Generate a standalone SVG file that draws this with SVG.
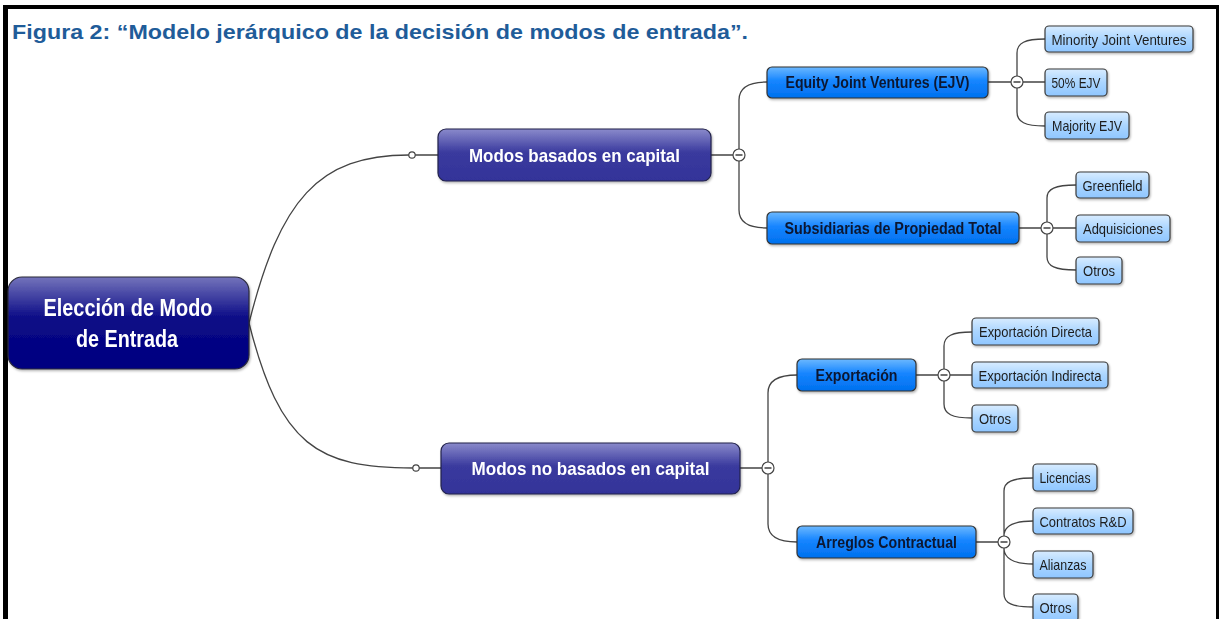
<svg xmlns="http://www.w3.org/2000/svg" width="1219" height="619" viewBox="0 0 1219 619">
<defs>
<linearGradient id="gRoot" x1="0" y1="0" x2="0" y2="1">
<stop offset="0" stop-color="#7474bb"/><stop offset="0.45" stop-color="#0a0a86"/><stop offset="1" stop-color="#000080"/>
</linearGradient>
<linearGradient id="gL1" x1="0" y1="0" x2="0" y2="1">
<stop offset="0" stop-color="#8a8acb"/><stop offset="0.45" stop-color="#3a3a9e"/><stop offset="1" stop-color="#333399"/>
</linearGradient>
<linearGradient id="gL2" x1="0" y1="0" x2="0" y2="1">
<stop offset="0" stop-color="#6cb8ff"/><stop offset="0.45" stop-color="#1585ff"/><stop offset="1" stop-color="#0070ee"/>
</linearGradient>
<linearGradient id="gL3" x1="0" y1="0" x2="0" y2="1">
<stop offset="0" stop-color="#d8ecff"/><stop offset="0.5" stop-color="#aad5ff"/><stop offset="1" stop-color="#8fc6ff"/>
</linearGradient>
<filter id="sh" x="-10%" y="-20%" width="120%" height="150%">
<feDropShadow dx="1" dy="1.5" stdDeviation="1" flood-color="#000" flood-opacity="0.3"/>
</filter>
</defs>
<style>
.root{fill:url(#gRoot);stroke:#2a2a3a;stroke-width:1.2}
.l1{fill:url(#gL1);stroke:#22224a;stroke-width:1.2}
.l2{fill:url(#gL2);stroke:#333;stroke-width:1.2}
.l3{fill:url(#gL3);stroke:#3a3a3a;stroke-width:1.2}
.tw{font-family:"Liberation Sans",Arial,sans-serif;font-weight:bold;fill:#fff;text-anchor:middle}
.tb{font-family:"Liberation Sans",Arial,sans-serif;font-weight:bold;fill:#0b1830;text-anchor:middle;font-size:16px}
.tl{font-family:"Liberation Sans",Arial,sans-serif;fill:#1e1e1e;text-anchor:middle;font-size:14.5px}
.c{fill:none;stroke:#444;stroke-width:1.3}
.k{fill:#fff;stroke:#444;stroke-width:1.2}
.m{stroke:#333;stroke-width:1.4}
</style>
<rect x="0" y="0" width="1219" height="619" fill="#fff"/>
<g id="frame" fill="#000">
<rect x="3" y="5" width="5" height="614"/>
<rect x="3" y="5" width="1216" height="4"/>
<rect x="1216" y="5" width="3" height="614"/>
</g>
<text x="12" y="39" font-family="'Liberation Sans',Arial,sans-serif" font-weight="bold" font-size="21" fill="#1f5c99" textLength="736" lengthAdjust="spacingAndGlyphs">Figura 2: “Modelo jerárquico de la decisión de modos de entrada”.</text>
<g id="connectors">
<path class="c" d="M249,323 C280,200 318,155 409,155"/>
<path class="c" d="M249,323 C280,446 318,468 413,468"/>
<path class="c" d="M415,155 H438 M419,468 H441"/>
<circle class="k" cx="412" cy="155" r="3.2"/>
<circle class="k" cx="416" cy="468" r="3.2"/>
<path class="c" d="M711,155 H733 M739,149 V100 C739,88 748,82 767,82 M739,161 V210 C739,222 748,228 767,228"/>
<path class="c" d="M740,468 H762 M768,462 V393 C768,381 777,375 797,375 M768,474 V524 C768,536 777,542 797,542"/>
<path class="c" d="M988,82 H1011 M1017,76 V53 C1017,43 1025,39 1045,39 M1023,82 H1045 M1017,88 V112 C1017,122 1025,126 1045,126"/>
<path class="c" d="M1019,228 H1041 M1047,222 V198 C1047,189 1055,185 1076,185 M1053,228 H1076 M1047,234 V257 C1047,266 1055,270 1076,270"/>
<path class="c" d="M916,375 H938 M944,369 V346 C944,336 952,332 972,332 M950,375 H972 M944,381 V404 C944,414 952,418 972,418"/>
<path class="c" d="M976,542 H998 M1004,536 V491 C1004,482 1012,478 1033,478 M1004,536 C1004,527 1012,521 1033,521 M1004,548 C1004,557 1012,564 1033,564 M1004,548 V594 C1004,603 1012,607 1033,607"/>
<g>
<circle class="k" cx="739" cy="155" r="6"/><line class="m" x1="735.5" y1="155" x2="742.5" y2="155"/>
<circle class="k" cx="768" cy="468" r="6"/><line class="m" x1="764.5" y1="468" x2="771.5" y2="468"/>
<circle class="k" cx="1017" cy="82" r="6"/><line class="m" x1="1013.5" y1="82" x2="1020.5" y2="82"/>
<circle class="k" cx="1047" cy="228" r="6"/><line class="m" x1="1043.5" y1="228" x2="1050.5" y2="228"/>
<circle class="k" cx="944" cy="375" r="6"/><line class="m" x1="940.5" y1="375" x2="947.5" y2="375"/>
<circle class="k" cx="1004" cy="542" r="6"/><line class="m" x1="1000.5" y1="542" x2="1007.5" y2="542"/>
</g>
</g>
<g id="n-root" filter="url(#sh)">
<rect class="root" x="8" y="277" width="241" height="92" rx="14"/>
<text class="tw" x="128" y="316" font-size="23" textLength="169" lengthAdjust="spacingAndGlyphs">Elección de Modo</text>
<text class="tw" x="127" y="347" font-size="23" textLength="102" lengthAdjust="spacingAndGlyphs">de Entrada</text>
</g>
<g id="n-capital" filter="url(#sh)">
<rect class="l1" x="438" y="129" width="273" height="52" rx="8"/>
<text class="tw" x="574.5" y="162" font-size="19" textLength="211" lengthAdjust="spacingAndGlyphs">Modos basados en capital</text>
</g>
<g id="n-nocapital" filter="url(#sh)">
<rect class="l1" x="441" y="443" width="299" height="51" rx="8"/>
<text class="tw" x="590.5" y="475" font-size="19" textLength="238" lengthAdjust="spacingAndGlyphs">Modos no basados en capital</text>
</g>
<g id="n-ejv" filter="url(#sh)">
<rect class="l2" x="767" y="67" width="221" height="31" rx="5"/>
<text class="tb" x="877.5" y="88" textLength="184" lengthAdjust="spacingAndGlyphs">Equity Joint Ventures (EJV)</text>
</g>
<g id="n-subs" filter="url(#sh)">
<rect class="l2" x="767" y="212" width="252" height="32" rx="5"/>
<text class="tb" x="893" y="234" textLength="217" lengthAdjust="spacingAndGlyphs">Subsidiarias de Propiedad Total</text>
</g>
<g id="n-export" filter="url(#sh)">
<rect class="l2" x="797" y="359" width="119" height="32" rx="5"/>
<text class="tb" x="856.5" y="381" textLength="82" lengthAdjust="spacingAndGlyphs">Exportación</text>
</g>
<g id="n-arreglos" filter="url(#sh)">
<rect class="l2" x="797" y="526" width="179" height="32" rx="5"/>
<text class="tb" x="886.5" y="548" textLength="141" lengthAdjust="spacingAndGlyphs">Arreglos Contractual</text>
</g>
<g id="n-minority" filter="url(#sh)">
<rect class="l3" x="1045" y="26" width="148" height="26" rx="4"/>
<text class="tl" x="1119" y="44.5" textLength="135" lengthAdjust="spacingAndGlyphs">Minority Joint Ventures</text>
</g>
<g id="n-50ejv" filter="url(#sh)">
<rect class="l3" x="1045" y="69" width="62" height="27" rx="4"/>
<text class="tl" x="1076" y="87.5" textLength="49" lengthAdjust="spacingAndGlyphs">50% EJV</text>
</g>
<g id="n-majority" filter="url(#sh)">
<rect class="l3" x="1045" y="112" width="84" height="27" rx="4"/>
<text class="tl" x="1087" y="130.5" textLength="70" lengthAdjust="spacingAndGlyphs">Majority EJV</text>
</g>
<g id="n-greenfield" filter="url(#sh)">
<rect class="l3" x="1076" y="172" width="73" height="26" rx="4"/>
<text class="tl" x="1112.5" y="190.5" textLength="60" lengthAdjust="spacingAndGlyphs">Greenfield</text>
</g>
<g id="n-adquisiciones" filter="url(#sh)">
<rect class="l3" x="1076" y="215" width="94" height="27" rx="4"/>
<text class="tl" x="1123" y="233.5" textLength="80" lengthAdjust="spacingAndGlyphs">Adquisiciones</text>
</g>
<g id="n-otros1" filter="url(#sh)">
<rect class="l3" x="1076" y="257" width="46" height="27" rx="4"/>
<text class="tl" x="1099" y="275.5" textLength="32" lengthAdjust="spacingAndGlyphs">Otros</text>
</g>
<g id="n-expdirecta" filter="url(#sh)">
<rect class="l3" x="972" y="318" width="127" height="27" rx="4"/>
<text class="tl" x="1035.5" y="336.5" textLength="113" lengthAdjust="spacingAndGlyphs">Exportación Directa</text>
</g>
<g id="n-expindirecta" filter="url(#sh)">
<rect class="l3" x="972" y="362" width="136" height="26" rx="4"/>
<text class="tl" x="1040" y="380.5" textLength="123" lengthAdjust="spacingAndGlyphs">Exportación Indirecta</text>
</g>
<g id="n-otros2" filter="url(#sh)">
<rect class="l3" x="972" y="405" width="46" height="27" rx="4"/>
<text class="tl" x="995" y="423.5" textLength="32" lengthAdjust="spacingAndGlyphs">Otros</text>
</g>
<g id="n-licencias" filter="url(#sh)">
<rect class="l3" x="1033" y="464" width="64" height="27" rx="4"/>
<text class="tl" x="1065" y="482.5" textLength="51" lengthAdjust="spacingAndGlyphs">Licencias</text>
</g>
<g id="n-contratos" filter="url(#sh)">
<rect class="l3" x="1033" y="508" width="100" height="26" rx="4"/>
<text class="tl" x="1083" y="526.5" textLength="87" lengthAdjust="spacingAndGlyphs">Contratos R&amp;D</text>
</g>
<g id="n-alianzas" filter="url(#sh)">
<rect class="l3" x="1033" y="551" width="60" height="27" rx="4"/>
<text class="tl" x="1063" y="569.5" textLength="47" lengthAdjust="spacingAndGlyphs">Alianzas</text>
</g>
<g id="n-otros3" filter="url(#sh)">
<rect class="l3" x="1033" y="594" width="45" height="28" rx="4"/>
<text class="tl" x="1055.5" y="612.5" textLength="32" lengthAdjust="spacingAndGlyphs">Otros</text>
</g>
</svg>
